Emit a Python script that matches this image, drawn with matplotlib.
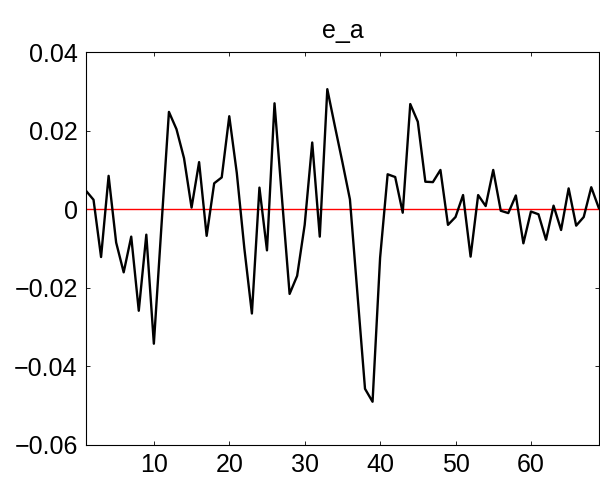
import numpy as np
import matplotlib
matplotlib.use("Agg")
import matplotlib.pyplot as plt

plt.rcParams['font.family'] = ['Liberation Sans', 'DejaVu Sans']

# residual series e_a, one value per period
periods = list(range(1, 70))
e_a = [
    0.0047, 0.0024, -0.0122, 0.0085, -0.0085, -0.0161, -0.0070, -0.0259, -0.0065, -0.0343,
    -0.0045, 0.0248, 0.0204, 0.0130, 0.0004, 0.0120, -0.0068, 0.0066, 0.0081, 0.0237,
    0.0092, -0.0100, -0.0266, 0.0055, -0.0105, 0.0270, 0.0025, -0.0216, -0.0170, -0.0040,
    0.0170, -0.0070, 0.0306, 0.0212, 0.0120, 0.0025, -0.0217, -0.0458, -0.0491, -0.0124,
    0.0089, 0.0082, -0.0009, 0.0268, 0.0223, 0.0070, 0.0069, 0.0100, -0.0040, -0.0020,
    0.0036, -0.0121, 0.0036, 0.0008, 0.0100, -0.0004, -0.0010, 0.0035, -0.0087, -0.0006,
    -0.0013, -0.0078, 0.0009, -0.0053, 0.0053, -0.0042, -0.0020, 0.0056, 0.0003,
]
y_ticks = [-0.06, -0.04, -0.02, 0, 0.02, 0.04]
y_labels = ['\u22120.06', '\u22120.04', '\u22120.02', '0', '0.02', '0.04']
x_ticks = [10, 20, 30, 40, 50, 60]

fig = plt.figure(figsize=(6, 4.82), dpi=100)
ax = fig.add_axes([0.1433, 0.0778, 0.8547, 0.8137])

ax.plot(periods, e_a, color='black', linewidth=1.7, zorder=3)
ax.axhline(0, color='#ff0000', linewidth=1.0, zorder=2)

ax.set_xlim(1, 69)
ax.set_ylim(-0.06, 0.04)
ax.set_xticks(x_ticks)
ax.set_xticklabels([str(t) for t in x_ticks])
ax.set_yticks(y_ticks)
ax.set_yticklabels(y_labels)
ax.tick_params(direction='in', length=3, width=0.6, labelsize=18, pad=6,
               top=True, right=True)
for side in ax.spines.values():
    side.set_linewidth(0.8)

ax.set_title('e_a', fontsize=18, pad=10)

fig.savefig('out.png', dpi=100)
